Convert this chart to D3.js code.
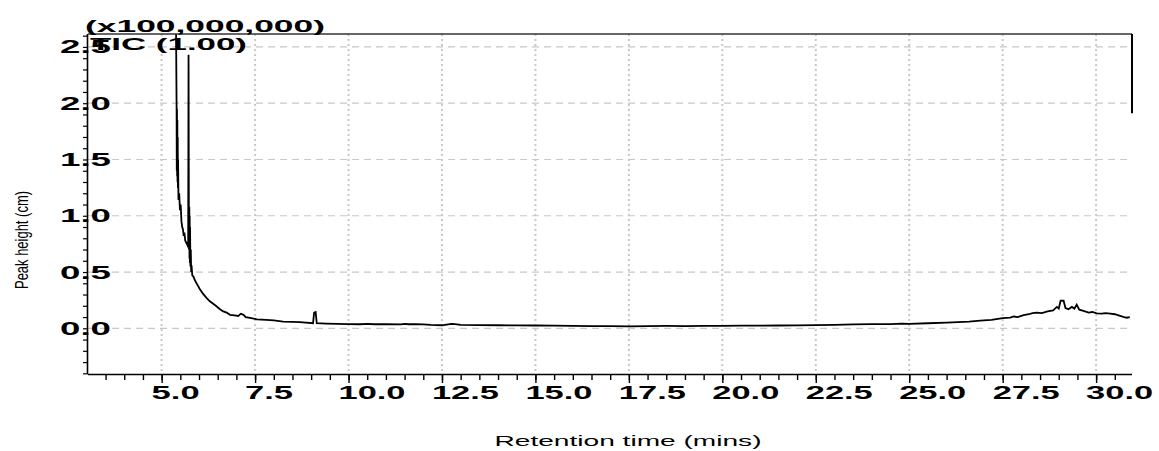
<!DOCTYPE html>
<html><head><meta charset="utf-8">
<script src="https://cdn.jsdelivr.net/npm/d3@7"></script>
<style>html,body{margin:0;padding:0;background:#fff;}svg{display:block;}</style>
</head><body>
<script>
// Retention time (minutes)
const times = [5.38,5.40,5.405,5.41,5.415,5.42,5.425,5.43,5.435,5.44,5.45,5.47,5.49,5.51,5.53,5.55,5.57,5.59,5.61,5.63,5.66,5.69,5.71,5.72,5.73,5.74,5.745,5.75,5.755,5.76,5.77,5.78,5.79,5.80,5.82,5.85,5.90,5.95,6.02,6.10,6.20,6.29,6.37,6.45,6.56,6.65,6.74,6.83,6.95,7.05,7.12,7.19,7.25,7.40,7.55,7.80,8.00,8.25,8.50,8.70,9.05,9.08,9.12,9.15,9.40,9.70,10.0,10.3,10.5,10.7,11.0,11.4,11.5,11.6,11.8,12.0,12.2,12.5,12.75,12.85,13.0,13.5,14.0,14.5,15.0,15.5,16.0,16.5,17.0,17.5,18.0,18.5,19.0,19.5,20.0,20.5,21.0,21.5,22.0,22.5,23.0,23.5,24.0,24.5,24.8,25.0,25.5,26.0,26.3,26.6,26.9,27.2,27.5,27.7,27.8,27.9,28.06,28.2,28.3,28.41,28.55,28.7,28.85,28.95,29.0,29.05,29.13,29.18,29.26,29.35,29.42,29.48,29.55,29.66,29.8,29.9,30.02,30.15,30.25,30.38,30.5,30.6,30.75,30.82,30.9];
// Peak height (x100,000,000)
const heights = [2.90,1.97,1.40,1.95,1.35,1.85,1.30,1.70,1.25,1.50,1.14,1.20,1.05,1.10,0.95,0.90,0.88,0.82,0.85,0.78,0.76,0.74,0.72,2.43,0.70,1.08,0.62,1.00,0.58,0.90,0.55,0.70,0.50,0.56,0.47,0.46,0.42,0.39,0.35,0.31,0.27,0.24,0.22,0.20,0.17,0.15,0.14,0.12,0.115,0.11,0.13,0.12,0.10,0.09,0.08,0.075,0.07,0.06,0.057,0.055,0.045,0.14,0.145,0.045,0.042,0.04,0.038,0.036,0.04,0.036,0.037,0.035,0.04,0.036,0.038,0.035,0.03,0.027,0.04,0.038,0.03,0.028,0.027,0.026,0.025,0.024,0.022,0.02,0.02,0.018,0.02,0.021,0.02,0.022,0.022,0.023,0.024,0.025,0.026,0.028,0.03,0.035,0.037,0.038,0.042,0.04,0.045,0.05,0.055,0.06,0.068,0.075,0.09,0.095,0.105,0.10,0.118,0.125,0.135,0.14,0.135,0.15,0.16,0.19,0.175,0.245,0.245,0.18,0.17,0.19,0.175,0.21,0.165,0.155,0.14,0.145,0.133,0.13,0.135,0.13,0.125,0.115,0.10,0.094,0.10];
const xTickLabels = ["5.0","7.5","10.0","12.5","15.0","17.5","20.0","22.5","25.0","27.5","30.0"];
const xTickValues = [5,7.5,10,12.5,15,17.5,20,22.5,25,27.5,30];
const yTickLabels = ["0.0","0.5","1.0","1.5","2.0","2.5"];
const yTickValues = [0,0.5,1,1.5,2,2.5];
const xDomain = [3.03, 30.96];
const yDomain = [-0.406, 2.615];
const rightEdgeBottom = 1.91;
const scaleText = "(x100,000,000)";
const seriesText = "TIC (1.00)";
const xTitle = "Retention time (mins)";
const yTitle = "Peak height (cm)";

const W = 1159, H = 451;
const L = 88, R = 1132, T = 34, B = 374;
const svg = d3.select("body").append("svg").attr("width", W).attr("height", H);
svg.append("rect").attr("width", W).attr("height", H).attr("fill", "#fff");

const x = d3.scaleLinear().domain(xDomain).range([L, R]);
const y = d3.scaleLinear().domain(yDomain).range([B, T]);

// grid
svg.append("g").selectAll("line").data(yTickValues).join("line")
  .attr("x1", L).attr("x2", R - 4).attr("y1", d => y(d)).attr("y2", d => y(d))
  .attr("stroke", "#c8c8c8").attr("stroke-width", 1.2).attr("stroke-dasharray", "7,5");
svg.append("g").selectAll("line").data(xTickValues).join("line")
  .attr("x1", d => x(d)).attr("x2", d => x(d)).attr("y1", T).attr("y2", B)
  .attr("stroke", "#c8c8c8").attr("stroke-width", 2).attr("stroke-dasharray", "2,3");

// clip
svg.append("clipPath").attr("id", "plotclip").append("rect")
  .attr("x", L).attr("y", T).attr("width", R - L).attr("height", B - T);

const data = times.map((t, i) => [t, heights[i]]);
svg.append("path").datum(data)
  .attr("clip-path", "url(#plotclip)")
  .attr("fill", "none").attr("stroke", "#000").attr("stroke-width", 1.8)
  .attr("stroke-linejoin", "miter")
  .attr("d", d3.line().x(d => x(d[0])).y(d => y(d[1])));

// axes
const xMinor = d3.range(3.5, 30.75, 0.5);
svg.append("g").attr("transform", `translate(0,${B})`)
  .call(d3.axisBottom(x).tickValues(xMinor).tickSize(6).tickFormat(""))
  .call(g => g.select(".domain").attr("stroke-width", 1.6).attr("d", `M${L},0.5H${R}`))
  .call(g => g.selectAll(".tick line").attr("stroke-width", 1.4));
svg.append("g").attr("transform", `translate(0,${B})`)
  .call(d3.axisBottom(x).tickValues(xTickValues).tickSize(9).tickFormat(""))
  .call(g => g.select(".domain").remove())
  .call(g => g.selectAll(".tick line").attr("stroke-width", 1.4));

const yMinor = d3.range(-4, 27, 1).map(d => d / 10);
svg.append("g").attr("transform", `translate(${L},0)`)
  .call(d3.axisLeft(y).tickValues(yMinor).tickSize(5).tickFormat(""))
  .call(g => g.select(".domain").attr("stroke-width", 1.6).attr("d", `M-0.5,${T}V${B}`))
  .call(g => g.selectAll(".tick line").attr("stroke-width", 1.2));

// top frame and right partial
svg.append("line").attr("x1", L).attr("x2", R).attr("y1", T).attr("y2", T)
  .attr("stroke", "#333").attr("stroke-width", 1.6);
svg.append("line").attr("x1", R).attr("x2", R).attr("y1", y(yDomain[1])).attr("y2", y(rightEdgeBottom))
  .attr("stroke", "#000").attr("stroke-width", 2);

// tick labels
const lblFont = "'Liberation Sans', Arial, sans-serif";
svg.append("g").selectAll("text").data(xTickValues).join("text")
  .attr("x", d => x(d) - 10).attr("y", 399)
  .attr("font-family", lblFont).attr("font-weight", "bold").attr("font-size", 18)
  .attr("textLength", (d, i) => xTickLabels[i].length === 3 ? 48 : 67)
  .attr("lengthAdjust", "spacingAndGlyphs")
  .text((d, i) => xTickLabels[i]);

svg.append("g").selectAll("text").data(yTickValues).join("text")
  .attr("x", L - 28).attr("y", d => y(d) + 6.5)
  .attr("font-family", lblFont).attr("font-weight", "bold").attr("font-size", 18)
  .attr("textLength", 51).attr("lengthAdjust", "spacingAndGlyphs")
  .text((d, i) => yTickLabels[i]);

// header texts
svg.append("text").attr("x", 85).attr("y", 32)
  .attr("font-family", lblFont).attr("font-weight", "bold").attr("font-size", 17)
  .attr("textLength", 240).attr("lengthAdjust", "spacingAndGlyphs").text(scaleText);
svg.append("text").attr("x", 90).attr("y", 50)
  .attr("font-family", lblFont).attr("font-weight", "bold").attr("font-size", 17)
  .attr("textLength", 157).attr("lengthAdjust", "spacingAndGlyphs").text(seriesText);

// titles
svg.append("text").attr("x", 628).attr("y", 446).attr("text-anchor", "middle")
  .attr("font-family", lblFont).attr("font-size", 15)
  .attr("textLength", 267).attr("lengthAdjust", "spacingAndGlyphs").text(xTitle);
svg.append("text").attr("transform", "translate(28,240) rotate(-90)").attr("text-anchor", "middle")
  .attr("font-family", lblFont).attr("font-size", 19)
  .attr("textLength", 98).attr("lengthAdjust", "spacingAndGlyphs").text(yTitle);
</script>
</body></html>
